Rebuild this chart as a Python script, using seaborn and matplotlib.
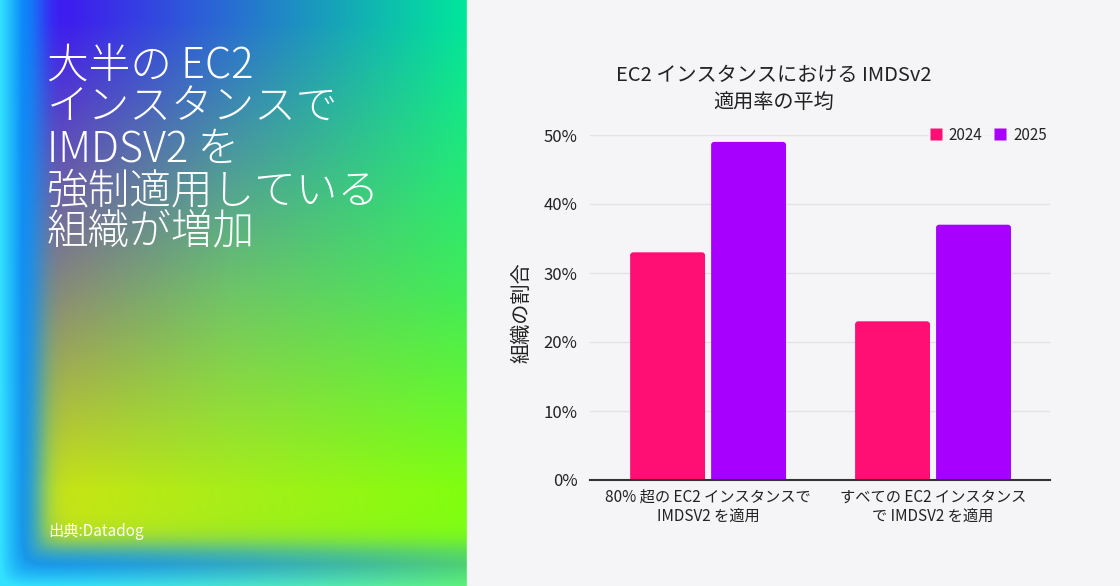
import numpy as np
import pandas as pd
import seaborn as sns
import matplotlib.pyplot as plt
from matplotlib.ticker import FuncFormatter
from matplotlib.lines import Line2D
from matplotlib.patches import FancyBboxPatch

sns.set_theme(style="white")
plt.rcParams['font.family'] = ['Noto Sans CJK JP', 'DejaVu Sans']

# data
categories = ["80% 超の EC2 インスタンスで\nIMDSV2 を適用",
              "すべての EC2 インスタンス\nで IMDSV2 を適用"]
years = ["2024", "2025"]
values_2024 = [33, 23]
values_2025 = [49, 37]
yticks = [0, 10, 20, 30, 40, 50]

df = pd.DataFrame({
    "category": categories * 2,
    "year": [years[0]] * 2 + [years[1]] * 2,
    "value": values_2024 + values_2025,
})
pal = {"2024": "#ff0f73", "2025": "#a800ff"}
bg = "#f5f5f7"

fig = plt.figure(figsize=(11.2, 5.86), dpi=100)
fig.patch.set_facecolor(bg)

# gradient panel on the left (decoration)
h, w = 586, 467
ypix, xpix = np.mgrid[0:h, 0:w].astype(float)
xs = [60, 230, 467]
ys = [20, 290, 490]
grid = np.array([
    [[64, 24, 240], [40, 110, 210], [0, 232, 154]],
    [[138, 138, 118], [110, 196, 104], [64, 236, 88]],
    [[200, 228, 20], [168, 238, 24], [128, 255, 16]],
]) / 255
rows = np.stack([np.stack([np.interp(xpix[0], xs, grid[r, :, c]) for c in range(3)], -1)
                 for r in range(3)])
yi = np.interp(ypix[:, 0], ys, [0, 1, 2])
i0 = np.clip(np.floor(yi).astype(int), 0, 1)
t = (yi - i0)[:, None, None]
img = (1 - t) * rows[i0] + t * rows[i0 + 1]

db = h - ypix
d = -8 * np.log(np.exp(-xpix / 8) + np.exp(-db / 8))
cyan = np.array([50, 225, 255]) / 255
blue = np.array([10, 145, 250]) / 255
s = np.clip(d / 22, 0, 1)[..., None]
frame = (1 - s) * cyan + s * blue
wi = 1 / (1 + np.exp(-(d - 40) / 7))
fa = (1 - wi) * (1 - 0.55 * (xpix / w) ** 1.5)
fa = fa[..., None]
img = img * (1 - fa) + frame * fa
img = np.clip(img, 0, 1)

bax = fig.add_axes([0, 0, w / 1120, 1])
bax.imshow(img, aspect="auto", extent=[0, 1, 0, 1], interpolation="bilinear")
bax.set_axis_off()
fig.add_artist(Line2D([466.5 / 1120] * 2, [0, 1], color="#e8fff0", lw=1))

fig.text(47 / 1120, 1 - 45 / 586,
         "大半の EC2\nインスタンスで\nIMDSV2 を\n強制適用している\n組織が増加",
         color="white", fontsize=30, va="top", ha="left", linespacing=0.94,
         weight="light")
fig.text(48 / 1120, 1 - 532 / 586, "出典:Datadog", color="white",
         fontsize=11, va="center", ha="left")

# bar chart
ax = fig.add_axes([590 / 1120, 1 - 480 / 586, 460 / 1120, 345 / 586])
ax.set_facecolor(bg)
sns.barplot(data=df, x="category", y="value", hue="year", palette=pal,
            width=0.72, gap=0.075, saturation=1, ax=ax, zorder=3)
ax.set_xlim(-0.525, 1.52)
ax.set_ylim(0, 50)

# slightly rounded bar tops
for p in list(ax.patches):
    x0, y0 = p.get_x(), p.get_y()
    bw, bh = p.get_width(), p.get_height()
    if bh <= 0:
        continue
    rp = FancyBboxPatch((x0, y0 - 2), bw, bh + 2,
                        boxstyle="round,pad=0,rounding_size=0.014",
                        mutation_aspect=31, facecolor=p.get_facecolor(),
                        edgecolor="none", zorder=3)
    p.set_visible(False)
    ax.add_patch(rp)

ax.set_yticks(yticks)
ax.yaxis.set_major_formatter(FuncFormatter(lambda v, p: f"{v:.0f}%"))
ax.grid(axis="y", color="#e2e2e8", lw=1, zorder=0)
ax.grid(axis="x", visible=False)
for sp in ["top", "right", "left"]:
    ax.spines[sp].set_visible(False)
ax.spines["bottom"].set_color("#333333")
ax.spines["bottom"].set_linewidth(1.5)
ax.spines["bottom"].set_zorder(4)
ax.tick_params(axis="y", length=0, labelsize=12, colors="#222222", pad=9)
ax.tick_params(axis="x", length=0, labelsize=11, colors="#222222", pad=6)
ax.set_xlabel("")
ax.set_ylabel("組織の割合", fontsize=14.5, color="#222222")
ax.yaxis.set_label_coords(-0.124, 0.485)

handles = [Line2D([0], [0], marker="s", color="none", markerfacecolor=pal[y],
                  markeredgecolor="none", markersize=9) for y in years]
leg = ax.legend(handles, years, loc="center right", bbox_to_anchor=(1.0, 1.0),
                ncol=2, frameon=True, fontsize=11, handlelength=0.7,
                handletextpad=0.5, columnspacing=0.8, borderpad=0.2,
                borderaxespad=0)
leg.get_frame().set_facecolor(bg)
leg.get_frame().set_edgecolor("none")
leg.set_zorder(5)

fig.text(774 / 1120, 1 - 89 / 586, "EC2 インスタンスにおける IMDSv2\n適用率の平均",
         fontsize=14.5, ha="center", va="center", color="#222222", linespacing=1.4)

plt.savefig("out.png", dpi=100, facecolor=bg)
